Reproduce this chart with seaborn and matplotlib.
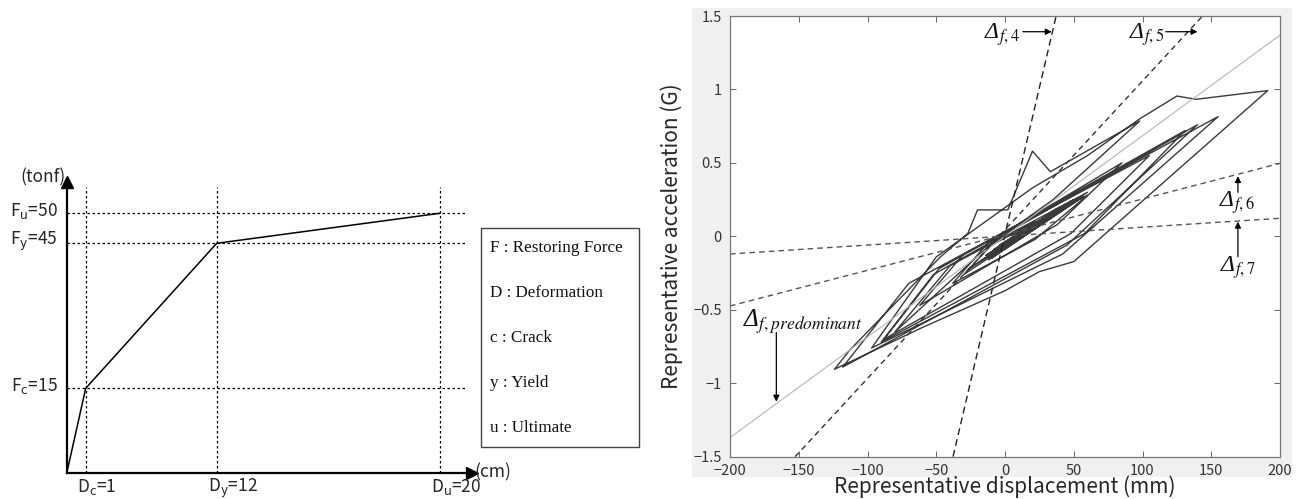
import numpy as np
import pandas as pd
import matplotlib
matplotlib.use("Agg")
import matplotlib.pyplot as plt
import seaborn as sns
from matplotlib.patches import Rectangle

# ---------------- data: left panel (trilinear skeleton curve, schematic) ----------------
deformation = [0, 1, 12, 20]
restoring_force = [0, 15, 45, 50]
deformation_ticks = [1, 12, 20]
deformation_labels = [r"D$_\mathrm{c}$=1", r"D$_\mathrm{y}$=12", r"D$_\mathrm{u}$=20"]
force_ticks = [15, 45, 50]
force_labels = [r"F$_\mathrm{c}$=15", r"F$_\mathrm{y}$=45", r"F$_\mathrm{u}$=50"]
legend_items = ["F : Restoring Force", "D : Deformation", "c : Crack", "y : Yield", "u : Ultimate"]

# ---------------- data: right panel ----------------
loop_disp = [0, 22, -8, 32, -14, 42, -4, 50, -18, 57,
             -10, 52, -6, 48, 0, 55, -12, 44, 5, 50, -8, 40, 2, 35,
             10, -26, 38, -12, 55, 15, -30, -10, 60, 22,
             -38, -12, 85, 38, -62, -30, 105, 48, -88, -48,
             131, 58, -90, -52, 140, 45, -118, -70, 155, 42,
             -97, -50, 20, 60, 98, 125, 139, 191, 50, 25,
             0, -60, -124, -113, -47, -27, -20, 2, 20, 33,
             98, 35, -10, -80, -40, 60, 20, 0]
loop_acc = [0.00, 0.10, -0.09, 0.15, -0.13, 0.20, -0.06, 0.24, -0.17, 0.27,
            -0.15, 0.25, -0.12, 0.24, -0.08, 0.26, -0.16, 0.22, -0.05, 0.25, -0.13, 0.20, -0.06, 0.17,
            0.00, -0.22, 0.19, -0.14, 0.26, 0.02, -0.26, -0.06, 0.28, -0.02,
            -0.32, -0.04, 0.50, 0.08, -0.47, -0.12, 0.55, 0.02, -0.70, -0.22,
            0.72, 0.02, -0.72, -0.26, 0.76, -0.06, -0.89, -0.32, 0.815, -0.12,
            -0.76, -0.14, 0.33, 0.55, 0.80, 0.955, 0.933, 0.992, -0.172, -0.24,
            -0.37, -0.62, -0.905, -0.775, -0.14, 0.02, 0.18, 0.18, 0.58, 0.44,
            0.785, 0.25, -0.05, -0.65, -0.20, 0.30, 0.05, 0.00]

pred_x, pred_y = [-200, 200], [-1.37, 1.37]
d4_x, d4_y = [-37.8, 37.2], [-1.5, 1.5]
d5_x, d5_y = [-152.6, 143.7], [-1.5, 1.5]
d6_x, d6_y = [-200, 200], [-0.474, 0.497]
d7_x, d7_y = [-200, 200], [-0.120, 0.123]

disp_ticks = [-200, -150, -100, -50, 0, 50, 100, 150, 200]
disp_tick_labels = ["\u2212200", "\u2212150", "\u2212100", "\u221250", "0", "50", "100", "150", "200"]
acc_ticks = [-1.5, -1, -0.5, 0, 0.5, 1, 1.5]
acc_tick_labels = ["\u22121.5", "\u22121", "\u22120.5", "0", "0.5", "1", "1.5"]

# ---------------- style ----------------
sns.set_style("ticks")
plt.rcParams["font.family"] = ["Noto Sans CJK JP", "DejaVu Sans"]
plt.rcParams["axes.unicode_minus"] = True

W, H = 1299, 499
fig = plt.figure(figsize=(W / 100, H / 100), dpi=100)
fig.patch.set_facecolor("white")


def fx(px):
    return px / W


def fy(py):
    return (H - py) / H


# ================= LEFT PANEL =================
# not-to-scale drawing positions of the schematic axes (pixels from origin)
xa_val, xa_pos = [0, 1, 12, 20, 22], [0, 19, 150, 373, 428.75]
ya_val, ya_pos = [0, 15, 45, 50, 56], [0, 85, 230, 260, 296]

ax1 = fig.add_axes([fx(66.7), fy(473.3), 405 / W, 291.6 / H])
ax1.set_xscale("function", functions=(lambda v: np.interp(v, xa_val, xa_pos),
                                      lambda p: np.interp(p, xa_pos, xa_val)))
ax1.set_yscale("function", functions=(lambda v: np.interp(v, ya_val, ya_pos),
                                      lambda p: np.interp(p, ya_pos, ya_val)))
ax1.set_xlim(0, float(np.interp(405, xa_pos, xa_val)))
ax1.set_ylim(0, float(np.interp(291.6, ya_pos, ya_val)))

skel = pd.DataFrame({"D": deformation, "F": restoring_force})
sns.lineplot(data=skel, x="D", y="F", sort=False, estimator=None, ax=ax1,
             color="black", lw=1.1)

for d in deformation_ticks:
    ax1.axvline(d, ymin=0, ymax=0.983, color="black", lw=0.9, ls=(0, (2, 2)))
for f in force_ticks:
    ax1.axhline(f, xmin=0, xmax=0.983, color="black", lw=0.9, ls=(0, (2, 2)))

for s in ["top", "right"]:
    ax1.spines[s].set_visible(False)
for s in ["left", "bottom"]:
    ax1.spines[s].set_linewidth(1.6)
    ax1.spines[s].set_color("black")
ax1.set_xticks([])
ax1.set_yticks([])
ax1.set_xlabel("")
ax1.set_ylabel("")
ax1.plot(1, 0, ">k", transform=ax1.get_yaxis_transform(), clip_on=False, ms=8)
ax1.plot(0, 1, "^k", transform=ax1.get_xaxis_transform(), clip_on=False, ms=8)

for d, lab in zip(deformation_ticks, deformation_labels):
    ax1.annotate(lab, xy=(d, 0), xycoords=("data", "axes fraction"),
                 xytext=(-6.2, -2.5), textcoords="offset points",
                 ha="left", va="top", fontsize=12.5, math_fontfamily="dejavusans")
for f, lab in zip(force_ticks, force_labels):
    ax1.annotate(lab, xy=(0, f), xycoords=("axes fraction", "data"),
                 xytext=(-6.3, 1.5), textcoords="offset points",
                 ha="right", va="center", fontsize=12.5, math_fontfamily="dejavusans")
ax1.annotate("(tonf)", xy=(0, 1), xycoords="axes fraction", xytext=(-17, 3.4),
             textcoords="offset points", ha="center", va="center", fontsize=12.5)
ax1.annotate("(cm)", xy=(1, 0), xycoords="axes fraction", xytext=(15, 1),
             textcoords="offset points", ha="center", va="center", fontsize=12.5)

# legend box
fig.add_artist(Rectangle((fx(480.7), fy(446.7)), 158.3 / W, 218.7 / H,
                         transform=fig.transFigure, fill=False,
                         edgecolor="#444444", lw=1.0))
for i, item in enumerate(legend_items):
    fig.text(fx(490), fy(248 + 45 * i), item, ha="left", va="center",
             fontsize=12.3, family=["Liberation Serif"], color="#111111")

# ================= RIGHT PANEL =================
fig.add_artist(Rectangle((fx(692), fy(477)), 600 / W, 469 / H,
                         transform=fig.transFigure, facecolor="#f0f0f0",
                         edgecolor="none", zorder=-5))

ax2 = fig.add_axes([fx(730), fy(456.7), 550 / W, 440.7 / H])
ax2.set_facecolor("white")

loops = pd.DataFrame({"disp": loop_disp, "acc": loop_acc})
sns.lineplot(data=loops, x="disp", y="acc", sort=False, estimator=None, ax=ax2,
             color="#3a3a3a", lw=1.0)

sns.lineplot(x=pred_x, y=pred_y, ax=ax2, color="#b5b5b5", lw=0.8)
for xs, ys, col, dash in [(d4_x, d4_y, "#222222", (5, 3)),
                          (d5_x, d5_y, "#333333", (4, 3)),
                          (d6_x, d6_y, "#555555", (4, 3)),
                          (d7_x, d7_y, "#555555", (4, 3))]:
    sns.lineplot(x=xs, y=ys, ax=ax2, color=col, lw=1.0)
    ax2.lines[-1].set_dashes(dash)

ax2.set_xlim(-200, 200)
ax2.set_ylim(-1.5, 1.5)
ax2.set_xticks(disp_ticks, disp_tick_labels)
ax2.set_yticks(acc_ticks, acc_tick_labels)
ax2.tick_params(direction="in", top=True, right=True, length=4, width=0.7,
                color="#666666", labelcolor="#333333", labelsize=10.5)
ax2.tick_params(axis="x", pad=5)
ax2.tick_params(axis="y", pad=6)
for s in ax2.spines.values():
    s.set_color("#777777")
    s.set_linewidth(0.9)
    s.set_visible(True)

ax2.set_xlabel("Representative displacement (mm)", fontsize=15, color="#262626")
ax2.set_ylabel("Representative acceleration (G)", fontsize=15, color="#262626")
ax2.xaxis.set_label_coords(0.5, -0.043)
ax2.yaxis.set_label_coords(-0.085, 0.5)

# Delta annotations (italic capital delta + math subscript)
kw = dict(fontsize=17, math_fontfamily="stix", color="#111111", ha="center",
          va="center", family=["Liberation Serif"], style="italic")
ax2.text(-2, 1.37, r"Δ$_{f,4}$", **kw)
ax2.text(103, 1.37, r"Δ$_{f,5}$", **kw)
ax2.text(169, 0.23, r"Δ$_{f,6}$", **kw)
ax2.text(169, -0.21, r"Δ$_{f,7}$", **kw)
ax2.text(-147, -0.58, r"Δ$_{f,predominant}$", **dict(kw, fontsize=18))

ap = dict(arrowstyle="-|>", color="black", lw=0.9, mutation_scale=9, shrinkA=0, shrinkB=0)
ax2.annotate("", xy=(34, 1.393), xytext=(13, 1.393), arrowprops=ap)
ax2.annotate("", xy=(140, 1.393), xytext=(117, 1.393), arrowprops=ap)
ax2.annotate("", xy=(169.4, 0.41), xytext=(169.4, 0.30), arrowprops=ap)
ax2.annotate("", xy=(169.4, 0.10), xytext=(169.4, -0.138), arrowprops=ap)
ax2.annotate("", xy=(-166.3, -1.125), xytext=(-166.3, -0.655), arrowprops=ap)

fig.savefig("out.png", dpi=100)
